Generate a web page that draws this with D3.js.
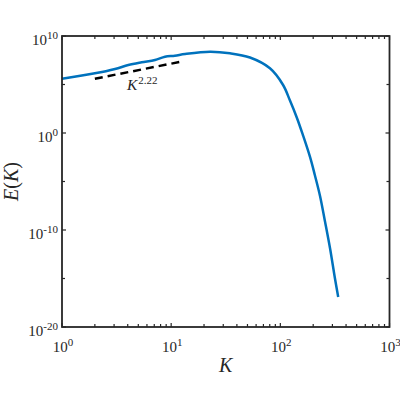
<!DOCTYPE html>
<html>
<head>
<meta charset="utf-8">
<script src="https://cdn.jsdelivr.net/npm/d3@7"></script>
<style>
  body { margin: 0; background: #fff; }
  text { font-family: "Liberation Serif", "DejaVu Serif", serif; fill: #262626; }
</style>
</head>
<body>
<svg width="400" height="400"></svg>
<script>
// spectrum E(K)
var kValues = [1, 2.0, 3.06, 4.05, 5.37, 7.11, 8.78, 10.8, 13.4, 22.7, 34.5, 52.7, 80.3, 106, 122, 142, 161, 187, 207, 231, 256, 285, 316, 339];
var eValues = [3.98e5, 1.41e6, 3.98e6, 1.02e7, 1.95e7, 3.39e7, 7.41e7, 9.33e7, 1.38e8, 2.40e8, 1.66e8, 6.03e7, 4.68e6, 8.91e4, 2.51e3, 35.5, 0.617, 3.39e-3, 4.68e-5, 3.24e-7, 8.51e-10, 1.38e-12, 1.12e-15, 1.23e-17];

// reference slope K^2.22
var fitK = [2.0, 12.8];
var fitExponent = 2.22;
var fitCoef = 8.5e4;

var xTicks = [1, 10, 100, 1000];
var xTickExp = ["0", "1", "2", "3"];
var yTicks = [1e10, 1, 1e-10, 1e-20];
var yTickExp = ["10", "0", "-10", "-20"];
var yMinorTicks = [1e5, 1e-5, 1e-15];

var svg = d3.select("svg"),
  width = +svg.attr("width"),
  height = +svg.attr("height");

var margin = {top: 36, right: 10.5, bottom: 73, left: 62};

var x = d3.scaleLog()
  .domain([1, 1000])
  .range([margin.left, width - margin.right]);

var y = d3.scaleLog()
  .domain([1e-20, 1e10])
  .range([height - margin.bottom, margin.top]);

var axisColor = "#262626";

// minor x ticks 2..9 per decade
var xMinor = [];
for (var d = 1; d < 1000; d *= 10) {
  for (var m = 2; m < 10; m++) xMinor.push(d * m);
}

// curve
var line = d3.line()
  .x(function(d) { return x(d[0]); })
  .y(function(d) { return y(d[1]); })
  .curve(d3.curveCatmullRom.alpha(0.5));

svg.append("path")
  .datum(d3.zip(kValues, eValues))
  .attr("fill", "none")
  .attr("stroke", "#0072BD")
  .attr("stroke-width", 2.5)
  .attr("d", line);

svg.append("path")
  .datum(fitK.map(function(k) { return [k, fitCoef * Math.pow(k, fitExponent)]; }))
  .attr("fill", "none")
  .attr("stroke", "#000")
  .attr("stroke-width", 2.5)
  .attr("stroke-dasharray", "8,5")
  .attr("d", d3.line().x(function(d) { return x(d[0]); }).y(function(d) { return y(d[1]); }));

var fitLabel = svg.append("text")
  .attr("x", 127)
  .attr("y", 90)
  .style("font-size", "15.5px");
fitLabel.append("tspan").style("font-style", "italic").text("K");
fitLabel.append("tspan").attr("dy", -6).attr("dx", 1).style("font-size", "11px").text("2.22");

// box
var x0 = x.range()[0], x1 = x.range()[1], y0 = y.range()[0], y1 = y.range()[1];

var ticks = svg.append("g").attr("stroke", axisColor).attr("stroke-width", 1.2);

ticks.selectAll(".xtk")
  .data(xTicks.concat(xMinor))
  .enter().append("g")
  .each(function(d) {
    var len = xTicks.indexOf(d) >= 0 ? 4 : 3;
    d3.select(this).append("line")
      .attr("x1", x(d)).attr("x2", x(d)).attr("y1", y0).attr("y2", y0 - len);
    d3.select(this).append("line")
      .attr("x1", x(d)).attr("x2", x(d)).attr("y1", y1).attr("y2", y1 + len);
  });

ticks.selectAll(".ytk")
  .data(yTicks.concat(yMinorTicks))
  .enter().append("g")
  .each(function(d) {
    var len = yTicks.indexOf(d) >= 0 ? 4 : 3;
    d3.select(this).append("line")
      .attr("x1", x0).attr("x2", x0 + len).attr("y1", y(d)).attr("y2", y(d));
    d3.select(this).append("line")
      .attr("x1", x1).attr("x2", x1 - len).attr("y1", y(d)).attr("y2", y(d));
  });

svg.append("rect")
  .attr("x", x0)
  .attr("y", y1)
  .attr("width", x1 - x0)
  .attr("height", y0 - y1)
  .attr("fill", "none")
  .attr("stroke", axisColor)
  .attr("stroke-width", 1.8);

// tick labels
svg.selectAll(".xlab")
  .data(xTicks)
  .enter().append("text")
  .attr("x", function(d) { return x(d) + 1; })
  .attr("y", 352)
  .attr("text-anchor", "middle")
  .style("font-size", "15px")
  .each(function(d, i) {
    var t = d3.select(this);
    t.append("tspan").text("10");
    t.append("tspan").attr("dy", -6).style("font-size", "11px").text(xTickExp[i]);
  });

svg.selectAll(".ylab")
  .data(yTicks)
  .enter().append("text")
  .attr("x", 58)
  .attr("y", function(d) { return y(d) + 9; })
  .attr("text-anchor", "end")
  .style("font-size", "15px")
  .each(function(d, i) {
    var t = d3.select(this);
    t.append("tspan").text("10");
    t.append("tspan").attr("dy", -6).style("font-size", "11px").text(yTickExp[i]);
  });

// axis labels
svg.append("text")
  .attr("x", (x0 + x1) / 2)
  .attr("y", 372)
  .attr("text-anchor", "middle")
  .style("font-size", "20px")
  .style("font-style", "italic")
  .text("K");

var yl = svg.append("text")
  .attr("transform", "translate(18," + ((y0 + y1) / 2) + ") rotate(-90)")
  .attr("text-anchor", "middle")
  .style("font-size", "20px");
yl.append("tspan").style("font-style", "italic").text("E");
yl.append("tspan").text("(");
yl.append("tspan").style("font-style", "italic").text("K");
yl.append("tspan").text(")");
</script>
</body>
</html>
